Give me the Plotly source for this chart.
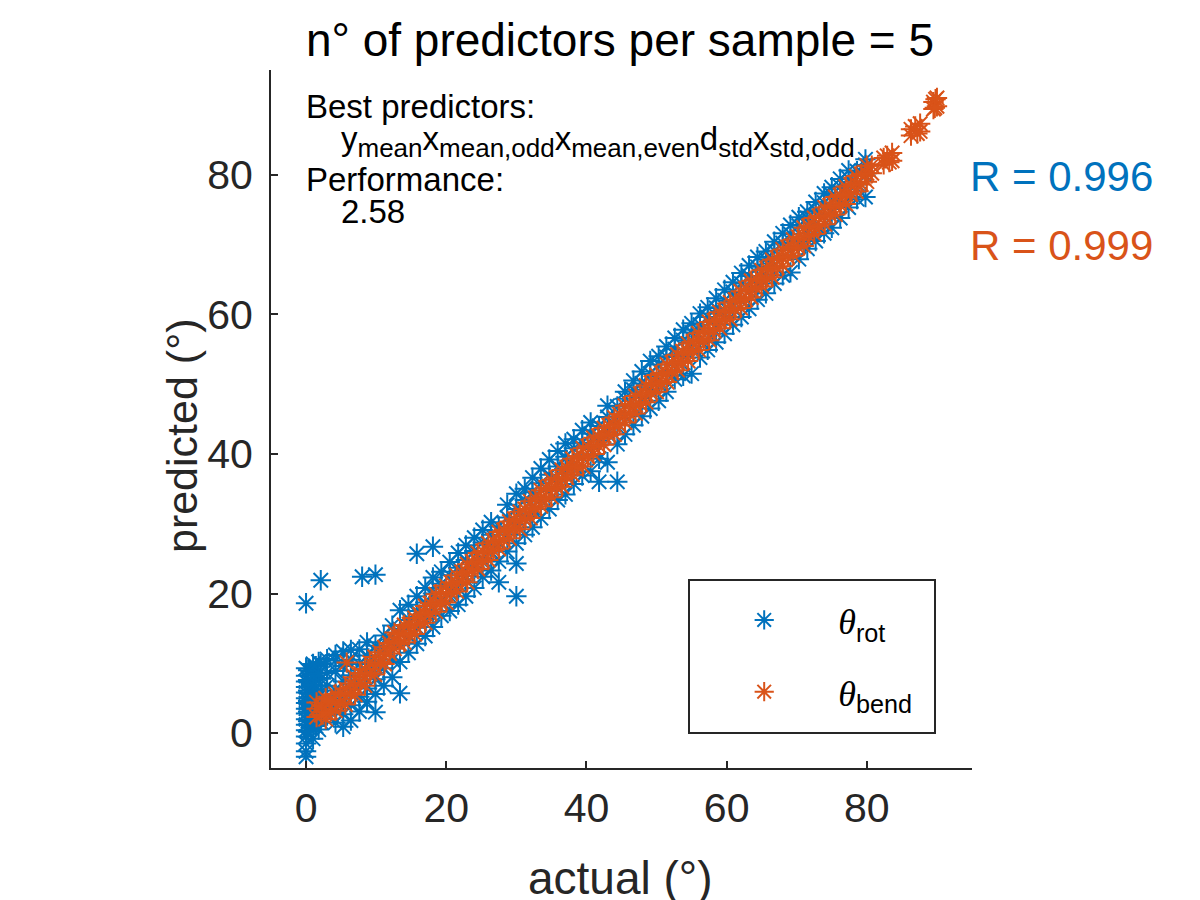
import plotly.graph_objects as go

# theta_bend (orange) - actual vs predicted
bend_actual = [1.5, 1.5, 1.5, 2.8, 2.8, 2.8, 2.8, 4.2, 4.2, 4.2, 5.6, 5.6, 5.6, 5.8,
               7.0, 7.0, 7.0, 8.4, 8.4, 8.4, 9.8, 9.8, 9.8, 11.2, 11.2, 11.2,
               12.6, 12.6, 12.6, 14.0, 14.0, 14.0, 15.5, 15.5, 15.5, 17.0, 17.0, 17.0,
               18.5, 18.5, 18.5, 20.0, 20.0, 20.0, 21.5, 21.5, 21.5, 23.0, 23.0, 23.0,
               24.5, 24.5, 24.5, 26.0, 26.0, 26.0, 27.5, 27.5, 27.5, 29.0, 29.0, 29.0,
               30.5, 30.5, 30.5, 32.0, 32.0, 32.0, 33.5, 33.5, 33.5, 35.0, 35.0, 35.0,
               36.5, 36.5, 36.5, 38.0, 38.0, 38.0, 39.5, 39.5, 39.5, 41.0, 41.0, 41.0,
               42.5, 42.5, 42.5, 44.0, 44.0, 44.0, 45.5, 45.5, 45.5, 47.0, 47.0, 47.0,
               48.5, 48.5, 48.5, 50.0, 50.0, 50.0, 51.5, 51.5, 51.5, 53.0, 53.0, 53.0,
               54.5, 54.5, 54.5, 56.0, 56.0, 56.0, 57.5, 57.5, 57.5, 59.0, 59.0, 59.0,
               60.5, 60.5, 60.5, 62.0, 62.0, 62.0, 63.5, 63.5, 63.5, 65.0, 65.0, 65.0,
               66.5, 66.5, 66.5, 68.0, 68.0, 68.0, 69.5, 69.5, 69.5, 71.0, 71.0, 71.0,
               72.5, 72.5, 72.5, 74.0, 74.0, 74.0, 75.5, 75.5, 75.5, 77.0, 77.0, 77.0,
               78.5, 78.5, 78.5, 80.0, 80.0, 80.0, 82.4, 82.4, 83.6, 83.6,
               86.3, 86.3, 87.6, 87.6, 89.5, 89.5, 90.0, 90.0]
bend_pred = [2.3, 3.5, 4.4, 2.0, 3.1, 4.3, 5.0, 3.2, 4.4, 5.6, 4.1, 5.3, 6.4, 10.1,
             5.5, 6.7, 8.0, 6.8, 8.1, 9.2, 8.4, 9.6, 10.9, 9.9, 11.0, 12.3,
             12.1, 13.2, 14.4, 13.0, 14.3, 15.5, 14.2, 15.4, 16.5, 15.8, 17.1, 18.2,
             17.4, 18.6, 19.9, 18.7, 19.9, 21.1, 20.3, 21.5, 22.6, 21.6, 22.9, 24.2,
             23.5, 24.6, 25.8, 24.8, 26.1, 27.2, 26.4, 27.5, 28.8, 27.9, 29.2, 30.3,
             29.2, 30.5, 31.7, 30.8, 32.0, 33.2, 32.5, 33.7, 34.8, 33.8, 35.1, 36.3,
             35.3, 36.4, 37.7, 37.0, 38.2, 39.3, 38.2, 39.5, 40.8, 40.0, 41.1, 42.3,
             41.3, 42.6, 43.7, 42.8, 44.1, 45.2, 44.5, 45.6, 46.9, 45.8, 47.0, 48.3,
             47.4, 48.6, 49.8, 48.9, 50.2, 51.3, 50.3, 51.5, 52.8, 52.0, 53.1, 54.2,
             53.3, 54.6, 55.8, 54.9, 56.2, 57.3, 56.3, 57.6, 58.9, 58.0, 59.1, 60.3,
             59.3, 60.6, 61.7, 60.9, 62.2, 63.3, 62.4, 63.5, 64.8, 64.0, 65.1, 66.3,
             65.3, 66.6, 67.8, 66.9, 68.1, 69.3, 68.4, 69.6, 70.7, 69.8, 71.1, 72.4,
             71.5, 72.6, 73.8, 72.9, 74.1, 75.3, 74.3, 75.6, 76.8, 75.8, 77.2, 78.3,
             77.6, 78.7, 79.8, 79.0, 80.2, 81.3, 81.5, 82.4, 82.0, 83.1,
             85.6, 86.5, 86.2, 87.3, 89.4, 90.4, 89.8, 91.0]
# second sweep of theta_bend samples (fills the band between the columns above)
bend_actual2 = [2.2, 2.2, 3.5, 3.5, 4.9, 4.9, 6.3, 6.3, 7.7, 7.7, 9.1, 9.1,
                10.5, 10.5, 11.9, 11.9, 13.3, 13.3, 14.7, 14.7, 16.2, 16.2, 17.7, 17.7,
                19.2, 19.2, 20.7, 20.7, 22.2, 22.2, 23.7, 23.7, 25.2, 25.2, 26.7, 26.7,
                28.2, 28.2, 29.7, 29.7, 31.2, 31.2, 32.7, 32.7, 34.2, 34.2, 35.7, 35.7,
                37.2, 37.2, 38.7, 38.7, 40.2, 40.2, 41.7, 41.7, 43.2, 43.2, 44.7, 44.7,
                46.2, 46.2, 47.7, 47.7, 49.2, 49.2, 50.7, 50.7, 52.2, 52.2, 53.7, 53.7,
                55.2, 55.2, 56.7, 56.7, 58.2, 58.2, 59.7, 59.7, 61.2, 61.2, 62.7, 62.7,
                64.2, 64.2, 65.7, 65.7, 67.2, 67.2, 68.7, 68.7, 70.2, 70.2, 71.7, 71.7,
                73.2, 73.2, 74.7, 74.7, 76.2, 76.2, 77.7, 77.7, 79.2, 79.2, 80.7, 80.7,
                82.9, 83.2, 86.9, 87.2, 89.8, 89.7]
bend_pred2 = [2.6, 3.9, 3.0, 4.6, 4.2, 5.8, 5.6, 7.1, 7.2, 8.6, 8.5, 10.1,
              10.1, 11.6, 11.4, 12.9, 12.8, 14.2, 14.1, 15.6, 15.7, 17.0, 17.1, 18.6,
              18.6, 20.2, 20.1, 21.6, 21.7, 23.1, 23.2, 24.6, 24.6, 26.1, 26.2, 27.6,
              27.6, 29.1, 29.2, 30.7, 30.6, 32.1, 32.2, 33.7, 33.6, 35.2, 35.2, 36.6,
              36.6, 38.1, 38.2, 39.7, 39.6, 41.1, 41.2, 42.6, 42.7, 44.1, 44.1, 45.7,
              45.7, 47.1, 47.1, 48.6, 48.7, 50.2, 50.1, 51.6, 51.7, 53.1, 53.1, 54.7,
              54.7, 56.1, 56.2, 57.6, 57.6, 59.1, 59.2, 60.6, 60.7, 62.1, 62.1, 63.7,
              63.7, 65.1, 65.1, 66.6, 66.7, 68.1, 68.2, 69.6, 69.6, 71.1, 71.2, 72.7,
              72.6, 74.1, 74.2, 75.6, 75.6, 77.1, 77.2, 78.6, 78.6, 80.1, 80.2, 81.3,
              82.7, 81.8, 86.9, 85.9, 90.8, 89.6]

# theta_rot (blue) - actual vs predicted
rot_actual = [0.0] * 17 + [0.7] * 6 + [1.4] * 6 + [2.1] * 6 + [3.0] * 5 + [4.2] * 6 \
    + [5.3] * 6 + [6.4] * 6 + [7.6] * 5 + [8.0] + [8.7] * 5 + [9.9] * 6 \
    + [11.1] * 4 + [12.3] * 4 + [13.4] * 5 + [14.6] * 4 + [15.8] * 5 + [17.0] * 4 \
    + [18.1] * 5 + [19.3] * 4 + [20.5] * 4 + [21.7] * 4 + [22.8] * 4 + [24.0] * 4 \
    + [25.2] * 4 + [26.4] * 4 + [27.5] * 4 + [28.7] * 4 + [30.0] * 6 + [31.2] * 4 \
    + [32.3] * 4 + [33.5] * 4 + [34.7] * 4 + [35.9] * 4 + [37.0] * 4 + [38.2] * 4 \
    + [39.4] * 4 + [40.6] * 4 + [41.8] * 4 + [43.0] * 4 + [44.4] * 4 + [45.5] * 4 \
    + [46.7] * 4 + [47.9] * 4 + [49.1] * 4 + [50.3] * 4 + [51.4] * 4 + [52.6] * 4 \
    + [53.8] * 4 + [55.0] * 4 + [56.2] * 4 + [57.3] * 4 + [58.5] * 4 + [59.7] * 4 \
    + [60.9] * 4 + [62.1] * 4 + [63.2] * 4 + [64.4] * 4 + [65.6] * 4 + [66.8] * 4 \
    + [68.0] * 4 + [69.1] * 4 + [70.3] * 4 + [71.5] * 4 + [72.7] * 4 + [73.9] * 4 \
    + [75.0] * 4 + [76.2] * 4 + [77.4] * 4 + [78.6] * 3 + [79.8] * 4
rot_pred = [-3.4, -2.6, -1.5, -0.5, 0.4, 1.2, 2.0, 2.8, 3.5, 4.3, 5.0, 5.8, 6.6, 7.4, 8.2, 9.3, 18.6,
            0.8, 2.5, 4.0, 5.6, 7.2, 8.8,
            1.0, 3.0, 4.8, 6.3, 7.9, 9.6,
            1.6, 3.6, 5.5, 7.8, 9.9, 21.9,
            2.5, 4.5, 6.8, 8.6, 10.6,
            1.5, 3.8, 6.1, 8.9, 10.4, 11.2,
            0.9, 2.7, 5.0, 7.4, 9.6, 11.7,
            1.8, 4.0, 6.2, 8.3, 10.5, 11.9,
            3.1, 5.2, 7.3, 9.9, 12.0,
            22.4,
            4.5, 6.4, 8.8, 11.1, 13.0,
            3.0, 5.6, 7.7, 10.0, 12.5, 22.7,
            6.8, 9.3, 11.8, 14.0,
            8.0, 10.5, 13.1, 15.4,
            5.7, 10.2, 12.6, 14.9, 17.6,
            11.5, 13.9, 16.2, 18.4,
            12.8, 15.1, 17.5, 19.6, 25.7,
            13.9, 16.4, 18.7, 20.8,
            15.2, 17.7, 20.0, 22.3, 26.7,
            16.8, 18.9, 21.4, 23.1,
            17.5, 20.1, 22.6, 24.5,
            18.4, 21.3, 23.7, 25.8,
            19.6, 22.5, 24.8, 26.9,
            20.8, 23.8, 26.1, 28.0,
            22.4, 24.9, 27.3, 29.1,
            23.3, 26.0, 28.4, 30.2,
            21.6, 24.6, 27.4, 29.6,
            26.0, 28.5, 30.9, 32.7,
            19.6, 24.3, 27.2, 29.9, 32.1, 34.3,
            28.4, 31.1, 33.4, 35.0,
            29.5, 32.3, 34.5, 36.6,
            30.8, 33.6, 35.8, 37.9,
            32.1, 34.7, 37.0, 39.2,
            33.4, 36.0, 38.2, 40.4,
            34.2, 37.1, 39.6, 41.5,
            35.7, 38.3, 40.8, 42.1,
            36.9, 39.5, 41.6, 43.4,
            37.5, 40.7, 42.9, 44.5,
            36.0, 39.3, 41.9, 44.0,
            38.8, 43.1, 45.3, 46.9,
            36.0, 41.4, 44.4, 46.8,
            42.8, 45.6, 47.9, 48.9,
            44.1, 46.8, 49.2, 50.5,
            45.4, 48.0, 50.1, 51.8,
            46.5, 49.2, 51.5, 53.3,
            47.6, 50.4, 52.8, 54.0,
            48.9, 51.5, 53.9, 55.4,
            50.7, 52.7, 55.0, 56.6,
            51.2, 54.0, 56.3, 57.8,
            51.5, 55.1, 57.4, 58.7,
            53.8, 56.3, 58.5, 60.1,
            54.9, 57.4, 59.6, 61.0,
            56.0, 58.6, 60.9, 62.3,
            57.2, 59.8, 62.0, 63.5,
            58.5, 61.0, 63.2, 64.6,
            59.6, 62.2, 64.4, 65.9,
            60.8, 63.3, 65.5, 67.0,
            62.1, 64.5, 66.8, 68.2,
            63.0, 65.7, 67.9, 69.0,
            64.4, 66.9, 69.1, 70.4,
            65.6, 68.1, 70.2, 71.6,
            66.0, 69.2, 71.5, 72.8,
            67.9, 70.4, 72.7, 73.9,
            69.4, 71.6, 73.8, 74.7,
            70.5, 72.8, 74.9, 76.1,
            71.6, 74.0, 76.0, 77.3,
            72.4, 75.1, 77.1, 78.2,
            73.8, 76.3, 78.3, 79.4,
            75.3, 77.5, 79.5, 80.6,
            76.5, 78.7, 80.5,
            76.8, 79.9, 81.4, 82.2]
# extra theta_rot samples in the dense cluster near actual = 0
rot_actual2 = [0.3, 0.3, 0.3, 0.3, 0.3, 0.3, 0.3,
               1.0, 1.0, 1.0, 1.0, 1.0, 1.0, 1.0,
               1.8, 1.8, 1.8, 1.8, 1.8, 1.8]
rot_pred2 = [0.2, 1.7, 3.1, 4.6, 6.1, 7.6, 9.0,
             -0.8, 1.9, 3.4, 5.0, 6.9, 8.3, 9.9,
             0.5, 2.2, 4.2, 6.0, 8.5, 10.2]

assert len(bend_actual) == len(bend_pred)
assert len(bend_actual2) == len(bend_pred2)
assert len(rot_actual) == len(rot_pred)
assert len(rot_actual2) == len(rot_pred2)

ticks = [0, 20, 40, 60, 80]
r_rot = "R = 0.996"
r_bend = "R = 0.999"
performance = "2.58"

BLUE = "#0072BD"
ORANGE = "#D95319"
AXC = "#262626"
FONT = "Liberation Sans"
THETA = "<span style='font-family:Liberation Serif'><i>θ</i></span>"

fig = go.Figure()
fig.add_trace(go.Scatter(x=rot_actual + rot_actual2, y=rot_pred + rot_pred2, mode="markers",
                         name=THETA + "<sub>rot</sub>", legendgroup="rot",
                         marker=dict(symbol="asterisk-open", size=17, color=BLUE,
                                     line=dict(color=BLUE, width=2))))
fig.add_trace(go.Scatter(x=bend_actual + bend_actual2, y=bend_pred + bend_pred2,
                         mode="markers", name=THETA + "<sub>bend</sub>", legendgroup="bend",
                         marker=dict(symbol="asterisk-open", size=17, color=ORANGE,
                                     line=dict(color=ORANGE, width=2))))

axis_common = dict(range=[-5, 95], tickvals=ticks, ticks="inside", ticklen=7,
                   tickwidth=2, tickcolor=AXC, showline=True, linecolor=AXC,
                   linewidth=2, mirror=False, showgrid=False, zeroline=False,
                   tickfont=dict(size=41, color=AXC, family=FONT))

# the page adds an 8px body margin, so the plot box is placed 8px up/left
fig.update_layout(
    width=1200, height=900,
    plot_bgcolor="white", paper_bgcolor="white",
    font=dict(family=FONT, color=AXC),
    margin=dict(l=263, r=236, t=62, b=140, autoexpand=False),
    title=dict(text="n° of predictors per sample = 5", x=0.51, xanchor="center",
               y=0.965, yanchor="middle", font=dict(size=46, color="black", family=FONT)),
    xaxis=dict(**axis_common, ticklabelstandoff=3),
    yaxis=dict(**axis_common, ticklabelstandoff=8),
    legend=dict(x=0.598, xanchor="left", y=0.255, yanchor="top",
                bgcolor="rgba(0,0,0,0)", borderwidth=0, itemwidth=138,
                tracegroupgap=22, font=dict(size=36, color="black", family=FONT)),
    showlegend=True,
)

# legend box
fig.add_shape(type="rect", xref="paper", yref="paper",
              x0=(689 - 271) / 701, x1=(935 - 271) / 701,
              y0=(768 - 733) / 698, y1=(768 - 580) / 698,
              line=dict(color=AXC, width=2), fillcolor="rgba(0,0,0,0)")

# axis titles
fig.add_annotation(text="actual (°)", x=0.498, y=-0.1576, xref="paper", yref="paper",
                   xanchor="center", yanchor="middle", showarrow=False,
                   font=dict(size=46, color=AXC, family=FONT))
fig.add_annotation(text="predicted (°)", x=-0.127, y=0.477, xref="paper", yref="paper",
                   xanchor="center", yanchor="middle", showarrow=False, textangle=-90,
                   font=dict(size=43, color=AXC, family=FONT))

txt = dict(xref="paper", yref="paper", xanchor="left", yanchor="middle",
           showarrow=False, font=dict(size=33, color="black", family=FONT))
sub = "<sub><span style='font-size:26px'>{}</span></sub>"
fig.add_annotation(text="Best predictors:", x=0.047, y=0.947, **txt)
fig.add_annotation(text="y" + sub.format("mean") + "x" + sub.format("mean,odd") + "x"
                   + sub.format("mean,even") + "d" + sub.format("std") + "x" + sub.format("std,odd"),
                   x=0.097, y=0.897, **txt)
fig.add_annotation(text="Performance:", x=0.047, y=0.843, **txt)
fig.add_annotation(text=performance, x=0.097, y=0.797, **txt)

fig.add_annotation(text=r_rot, x=0.994, y=0.847, xref="paper", yref="paper",
                   xanchor="left", yanchor="middle", showarrow=False,
                   font=dict(size=42, color=BLUE, family=FONT))
fig.add_annotation(text=r_bend, x=0.994, y=0.748, xref="paper", yref="paper",
                   xanchor="left", yanchor="middle", showarrow=False,
                   font=dict(size=42, color=ORANGE, family=FONT))

fig.write_html("out.html")
